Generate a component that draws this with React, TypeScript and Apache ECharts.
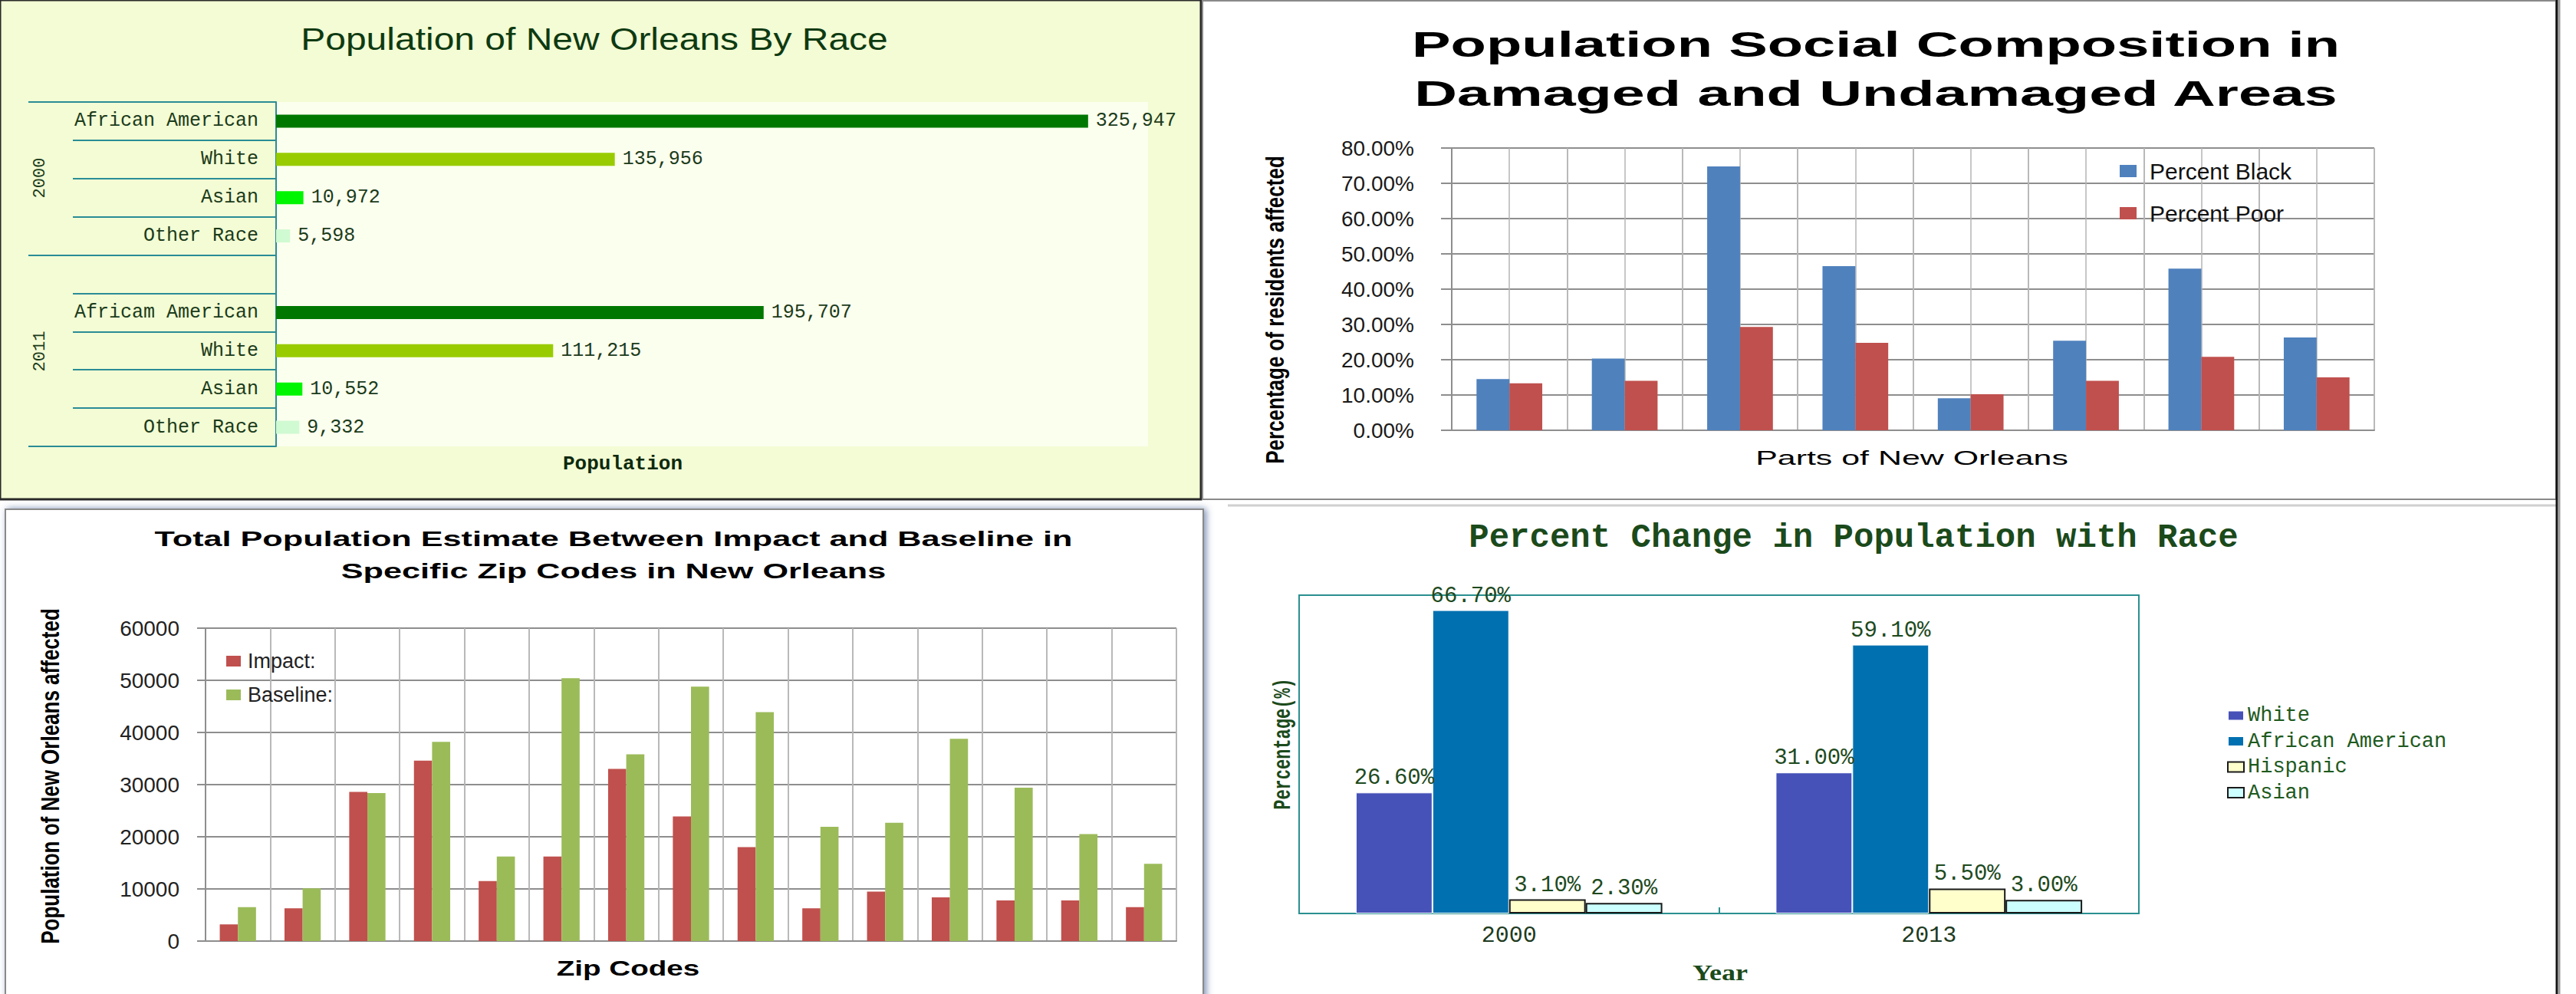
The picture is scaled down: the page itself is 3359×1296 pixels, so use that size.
import React, { useEffect, useRef } from "react";
import * as echarts from "echarts";

// ---------- Panel 1: Population of New Orleans By Race ----------
const raceCategories = [
  "African American",
  "White",
  "Asian",
  "Other Race",
  "",
  "Africam American",
  "White",
  "Asian",
  "Other Race",
];
const pop2000 = [325947, 135956, 10972, 5598];
const pop2011 = [195707, 111215, 10552, 9332];
const raceColors = ["#007800", "#99CC00", "#00F500", "#D0FAD2"];
const yearGroups = ["2000", "2011"];

// ---------- Panel 2: Population Social Composition ----------
const areas = ["Area 1", "Area 2", "Area 3", "Area 4", "Area 5", "Area 6", "Area 7", "Area 8"];
const percentBlack = [14.5, 20.3, 74.8, 46.5, 9.1, 25.4, 45.8, 26.3];
const percentPoor = [13.3, 14.0, 29.3, 24.8, 10.2, 14.0, 20.8, 15.0];
const percentTicks = [0, 10, 20, 30, 40, 50, 60, 70, 80];

// ---------- Panel 3: Impact vs Baseline ----------
const zipCodes = [
  "Zip 1", "Zip 2", "Zip 3", "Zip 4", "Zip 5", "Zip 6", "Zip 7", "Zip 8",
  "Zip 9", "Zip 10", "Zip 11", "Zip 12", "Zip 13", "Zip 14", "Zip 15",
];
const impact = [3200, 6300, 28600, 34600, 11500, 16200, 33000, 23900, 18000, 6300, 9500, 8400, 7800, 7800, 6500];
const baseline = [6500, 10100, 28400, 38200, 16200, 50400, 35800, 48800, 43900, 21900, 22700, 38800, 29400, 20500, 14800];

// ---------- Panel 4: Percent Change in Population with Race ----------
const years = ["2000", "2013"];
const whitePct = [26.6, 31.0];
const africanAmericanPct = [66.7, 59.1];
const hispanicPct = [3.1, 5.5];
const asianPct = [2.3, 3.0];

const MONO = "'Liberation Mono', 'DejaVu Sans Mono', monospace";
const SANS = "'Liberation Sans', Arial, sans-serif";
const SERIF = "'Liberation Serif', 'DejaVu Serif', serif";
const TEAL = "#2A8C96";

function txt(
  text: string,
  x: number,
  y: number,
  o: { size: number; family: string; weight?: string; fill?: string; scaleX?: number; scaleY?: number; rotation?: number }
) {
  return {
    type: "text",
    x,
    y,
    z: 100,
    scaleX: o.scaleX ?? 1,
    scaleY: o.scaleY ?? 1,
    rotation: o.rotation ?? 0,
    style: {
      text,
      fontSize: o.size,
      fontFamily: o.family,
      fontWeight: o.weight ?? "normal",
      fill: o.fill ?? "#111",
      align: "center",
      verticalAlign: "middle",
      textAlign: "center",
      textVerticalAlign: "middle",
    },
  };
}

function buildOption(): any {
  const halves = (arr: string[]) => arr.flatMap((a) => [a + " a", a + " b"]);

  const panel1Data: any[] = [
    ...pop2000.map((v, i) => ({ value: v, itemStyle: { color: raceColors[i] } })),
    "-",
    ...pop2011.map((v, i) => ({ value: v, itemStyle: { color: raceColors[i] } })),
  ];

  const p4Label = {
    show: true,
    position: "top",
    distance: 4,
    fontFamily: MONO,
    fontSize: 29,
    color: "#1E4A1E",
    formatter: (p: any) => Number(p.value).toFixed(2) + "%",
  };

  return {
    animation: false,
    backgroundColor: "#ffffff",
    graphic: [
      // panel frames
      { type: "rect", z: -10, shape: { x: 0, y: 0, width: 1566, height: 651 }, style: { fill: "#F3FCD4", stroke: "#2a2a2a", lineWidth: 3 } },
      { type: "rect", z: -10, shape: { x: 1568, y: 1, width: 1765, height: 650 }, style: { fill: "#ffffff", stroke: "#8a8a8a", lineWidth: 2 } },
      {
        type: "rect",
        z: -9,
        shape: { x: 7, y: 664, width: 1562, height: 640 },
        style: { fill: "#ffffff", stroke: "#8a8a8a", lineWidth: 2, shadowBlur: 10, shadowColor: "rgba(70,100,150,0.7)", shadowOffsetX: 3 },
      },
      { type: "line", z: -8, shape: { x1: 1601, y1: 659, x2: 3333, y2: 659 }, style: { stroke: "#d0d0d0", lineWidth: 3 } },
      { type: "line", z: 50, shape: { x1: 3334, y1: 0, x2: 3334, y2: 1296 }, style: { stroke: "#111", lineWidth: 3 } },
      { type: "line", z: 50, shape: { x1: 3337, y1: 0, x2: 3337, y2: 1296 }, style: { stroke: "#9a9a9a", lineWidth: 3 } },

      // panel 1 texts
      txt("Population of New Orleans By Race", 775, 51, { size: 40, family: SANS, fill: "#0E3A12", scaleX: 1.2 }),
      txt(yearGroups[0], 52, 232, { size: 22, family: MONO, fill: "#1B3B1B", rotation: Math.PI / 2 }),
      txt(yearGroups[1], 52, 458, { size: 22, family: MONO, fill: "#1B3B1B", rotation: Math.PI / 2 }),
      txt("Population", 812, 605, { size: 26, family: MONO, weight: "bold", fill: "#0E2A0E" }),

      // panel 2 texts
      txt("Population Social Composition in", 2446, 58, { size: 46, family: SANS, weight: "bold", fill: "#000", scaleX: 1.65 }),
      txt("Damaged and Undamaged Areas", 2446, 122, { size: 46, family: SANS, weight: "bold", fill: "#000", scaleX: 1.68 }),
      txt("Percentage of residents affected", 1662, 404, { size: 26, family: SANS, weight: "bold", fill: "#000", rotation: Math.PI / 2, scaleY: 1.3 }),
      txt("Parts of New Orleans", 2493, 597, { size: 26, family: SANS, fill: "#000", scaleX: 1.65 }),

      // panel 3 texts
      txt("Total Population Estimate Between Impact and Baseline in", 800, 703, { size: 27, family: SANS, weight: "bold", fill: "#000", scaleX: 1.6 }),
      txt("Specific Zip Codes in New Orleans", 800, 745, { size: 27, family: SANS, weight: "bold", fill: "#000", scaleX: 1.6 }),
      txt("Population of New Orleans affected", 65, 1012, { size: 26, family: SANS, weight: "bold", fill: "#000", rotation: Math.PI / 2, scaleY: 1.3 }),
      txt("Zip Codes", 819, 1263, { size: 27, family: SANS, weight: "bold", fill: "#000", scaleX: 1.43 }),

      // panel 4 texts
      txt("Percent Change in Population with Race", 2417, 701, { size: 44, family: MONO, weight: "bold", fill: "#1B4A1B" }),
      txt("Percentage(%)", 1674, 970, { size: 22, family: MONO, weight: "bold", fill: "#1B4A1B", rotation: Math.PI / 2, scaleY: 1.4 }),
      txt("Year", 2243, 1268, { size: 30, family: SERIF, weight: "bold", fill: "#1B4A1B", scaleX: 1.2 }),
    ],
    legend: [
      {
        data: ["Percent Black", "Percent Poor"],
        orient: "vertical",
        left: 2759,
        top: 203,
        icon: "rect",
        itemWidth: 22,
        itemHeight: 16,
        itemGap: 25,
        textStyle: { fontFamily: SANS, fontSize: 30, color: "#111", lineHeight: 30, padding: [0, 0, 0, 12] },
      },
      {
        data: ["Impact:", "Baseline:"],
        orient: "vertical",
        left: 290,
        top: 843,
        icon: "rect",
        itemWidth: 19,
        itemHeight: 14,
        itemGap: 16,
        textStyle: { fontFamily: SANS, fontSize: 27, color: "#222", lineHeight: 28, padding: [0, 0, 0, 4] },
      },
      {
        data: ["White", "African American", "Hispanic", "Asian"],
        orient: "vertical",
        left: 2899,
        top: 914,
        icon: "rect",
        itemWidth: 21,
        itemHeight: 13,
        itemGap: 5.5,
        textStyle: { fontFamily: MONO, fontSize: 27, color: "#1E5A1E", lineHeight: 28, padding: [0, 0, 0, 0] },
      },
    ],
    grid: [
      { left: 360, top: 133, width: 1137, height: 449, show: true, backgroundColor: "#FBFFEE", borderWidth: 0 },
      { left: 1893, top: 193, width: 1203, height: 368 },
      { left: 268, top: 819, width: 1266, height: 408 },
      { left: 1694, top: 776, width: 1095, height: 415, show: true, borderColor: "#2A9090", borderWidth: 2, backgroundColor: "transparent" },
    ],
    xAxis: [
      { gridIndex: 0, type: "value", min: 0, max: 350000, show: false },
      {
        gridIndex: 1,
        type: "category",
        data: areas,
        axisLine: { show: true, lineStyle: { color: "#8E8E8E", width: 2 } },
        axisTick: { show: false },
        axisLabel: { show: false },
        splitLine: { show: true, lineStyle: { color: "#B4B4B4", width: 1.5 } },
      },
      {
        gridIndex: 1,
        type: "category",
        position: "top",
        data: halves(areas),
        axisLine: { show: false },
        axisTick: { show: false },
        axisLabel: { show: false },
        splitLine: { show: true, lineStyle: { color: "#B4B4B4", width: 1.5 } },
      },
      {
        gridIndex: 2,
        type: "category",
        data: zipCodes,
        axisLine: { show: true, lineStyle: { color: "#8E8E8E", width: 2 } },
        axisTick: { show: false },
        axisLabel: { show: false },
        splitLine: { show: true, lineStyle: { color: "#B4B4B4", width: 1.5 } },
      },
      {
        gridIndex: 2,
        type: "category",
        position: "top",
        data: halves(zipCodes),
        axisLine: { show: false },
        axisTick: { show: false },
        axisLabel: { show: false },
        splitLine: { show: true, lineStyle: { color: "#B4B4B4", width: 1.5 } },
      },
      {
        gridIndex: 3,
        type: "category",
        data: years,
        axisLine: { show: false },
        axisTick: { show: true, inside: true, length: 8, lineStyle: { color: "#2A9090", width: 2 } },
        axisLabel: { fontFamily: MONO, fontSize: 30, color: "#1E3A1E", margin: 14 },
        splitLine: { show: false },
      },
    ],
    yAxis: [
      {
        gridIndex: 0,
        type: "category",
        inverse: true,
        position: "left",
        data: raceCategories,
        axisLine: { show: true, lineStyle: { color: TEAL, width: 2 } },
        axisTick: { show: true, length: 265, lineStyle: { color: TEAL, width: 2 } },
        axisLabel: { margin: 23, fontFamily: MONO, fontSize: 25, color: "#1B3B1B" },
        splitLine: { show: false },
      },
      {
        gridIndex: 0,
        type: "category",
        inverse: true,
        position: "left",
        data: raceCategories,
        axisLine: { show: false },
        axisTick: { show: true, length: 323, interval: (i: number) => i === 0 || i === 4, lineStyle: { color: TEAL, width: 2 } },
        axisLabel: { show: false },
        splitLine: { show: false },
      },
      {
        gridIndex: 1,
        type: "value",
        min: percentTicks[0],
        max: percentTicks[percentTicks.length - 1],
        interval: 10,
        axisLine: { show: true, lineStyle: { color: "#8E8E8E", width: 2 } },
        axisTick: { show: true, length: 14, lineStyle: { color: "#8E8E8E", width: 2 } },
        axisLabel: { margin: 49, fontFamily: SANS, fontSize: 28, color: "#1a1a1a", formatter: (v: number) => v.toFixed(2) + "%" },
        splitLine: { show: true, lineStyle: { color: "#8E8E8E", width: 2 } },
      },
      {
        gridIndex: 2,
        type: "value",
        min: 0,
        max: 60000,
        interval: 10000,
        axisLine: { show: true, lineStyle: { color: "#8E8E8E", width: 2 } },
        axisTick: { show: true, length: 11, lineStyle: { color: "#8E8E8E", width: 2 } },
        axisLabel: { margin: 34, fontFamily: SANS, fontSize: 28, color: "#222", formatter: (v: number) => String(v) },
        splitLine: { show: true, lineStyle: { color: "#8E8E8E", width: 2 } },
      },
      { gridIndex: 3, type: "value", min: 0, max: 70, show: false, splitLine: { show: false } },
    ],
    series: [
      {
        name: "Population",
        type: "bar",
        xAxisIndex: 0,
        yAxisIndex: 0,
        barWidth: 17,
        data: panel1Data,
        label: {
          show: true,
          position: "right",
          distance: 10,
          fontFamily: MONO,
          fontSize: 25,
          color: "#1B3B1B",
          formatter: (p: any) => Number(p.value).toLocaleString("en-US"),
        },
      },
      { name: "Percent Black", type: "bar", xAxisIndex: 1, yAxisIndex: 2, data: percentBlack, itemStyle: { color: "#4F81BD" }, barGap: "0%", barCategoryGap: "43%" },
      { name: "Percent Poor", type: "bar", xAxisIndex: 1, yAxisIndex: 2, data: percentPoor, itemStyle: { color: "#C0504D" }, barGap: "0%", barCategoryGap: "43%" },
      { name: "Impact:", type: "bar", xAxisIndex: 3, yAxisIndex: 3, data: impact, itemStyle: { color: "#C0504D" }, barGap: "0%", barCategoryGap: "44%" },
      { name: "Baseline:", type: "bar", xAxisIndex: 3, yAxisIndex: 3, data: baseline, itemStyle: { color: "#9BBB59" }, barGap: "0%", barCategoryGap: "44%" },
      {
        name: "White",
        type: "bar",
        xAxisIndex: 5,
        yAxisIndex: 4,
        data: whitePct,
        itemStyle: { color: "#4652B8", borderColor: "#ffffff", borderWidth: 1 },
        label: p4Label,
        barGap: "0%",
        barCategoryGap: "27%",
      },
      {
        name: "African American",
        type: "bar",
        xAxisIndex: 5,
        yAxisIndex: 4,
        data: africanAmericanPct,
        itemStyle: { color: "#0070B0", borderColor: "#ffffff", borderWidth: 1 },
        label: p4Label,
        barGap: "0%",
        barCategoryGap: "27%",
      },
      {
        name: "Hispanic",
        type: "bar",
        xAxisIndex: 5,
        yAxisIndex: 4,
        data: hispanicPct,
        itemStyle: { color: "#FFFFCC", borderColor: "#1a1a1a", borderWidth: 2 },
        label: p4Label,
        barGap: "0%",
        barCategoryGap: "27%",
      },
      {
        name: "Asian",
        type: "bar",
        xAxisIndex: 5,
        yAxisIndex: 4,
        data: asianPct,
        itemStyle: { color: "#CCFFFF", borderColor: "#1a1a1a", borderWidth: 2 },
        label: p4Label,
        barGap: "0%",
        barCategoryGap: "27%",
      },
    ],
  };
}

export default function App() {
  const ref = useRef<HTMLDivElement>(null);
  useEffect(() => {
    document.body.style.margin = "0";
    const chart = echarts.init(ref.current as HTMLDivElement, null, { renderer: "svg" });
    chart.setOption(buildOption());
    return () => chart.dispose();
  }, []);
  return (
    <div
      ref={ref}
      style={{ position: "fixed", left: 0, top: 0, width: 3359, height: 1296, background: "#ffffff" }}
    />
  );
}
